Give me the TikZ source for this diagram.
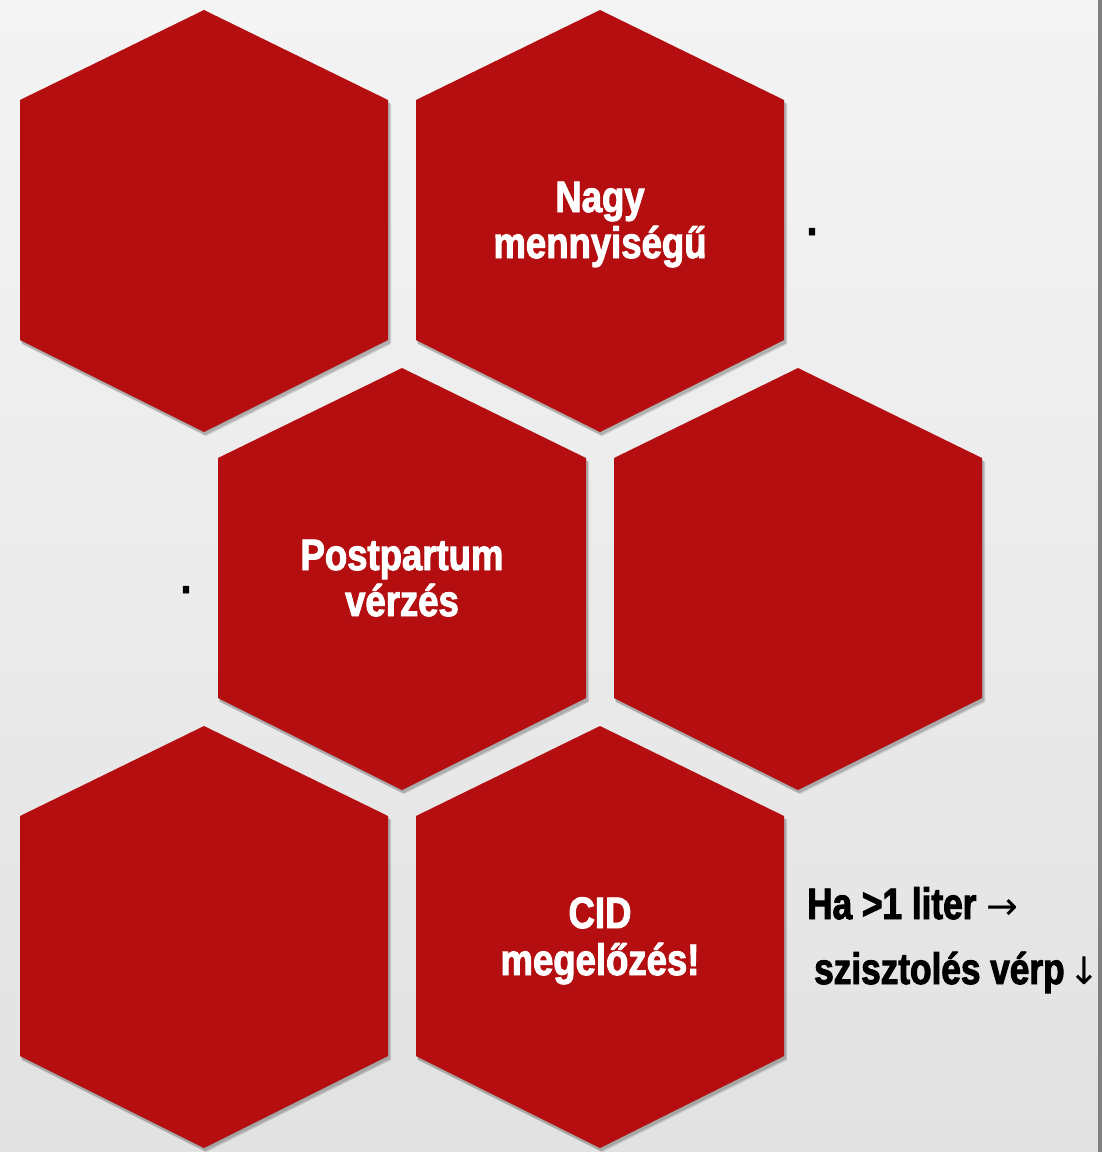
\documentclass[tikz,border=0pt]{standalone}
\usepackage{fontspec}
\setmainfont{Liberation Sans}
\newfontfamily\hexfont[FakeStretch=0.83,FakeBold=2.2]{Liberation Sans}
\newfontfamily\sidefont[FakeStretch=0.8,FakeBold=2.2]{Liberation Sans}
\newfontfamily\arrowfont{DejaVu Sans}
\definecolor{hexred}{RGB}{180,14,16}
\definecolor{bgtop}{RGB}{244,244,244}
\definecolor{bgbot}{RGB}{226,226,226}
\definecolor{edgegray}{RGB}{128,128,128}
\newcommand\hexcell[2]{%
  \fill[black,opacity=0.14] (#1+1,#2+3) -- (#1+186,#2+93) -- (#1+186,#2+333) -- (#1+1,#2+425) -- (#1-183,#2+333) -- (#1-183,#2+93) -- cycle;
  \fill[black,opacity=0.14] (#1+2,#2+4) -- (#1+187,#2+94) -- (#1+187,#2+334) -- (#1+2,#2+426) -- (#1-182,#2+334) -- (#1-182,#2+94) -- cycle;
  \fill[hexred] (#1,#2) -- (#1+184,#2+90) -- (#1+184,#2+330) -- (#1,#2+422) -- (#1-184,#2+330) -- (#1-184,#2+90) -- cycle;
}
\newcommand\arr[1]{{\arrowfont\mdseries\fontsize{38}{38}\selectfont #1}}
\tikzset{
  hextext/.style={text=white,font=\hexfont\bfseries\fontsize{44}{47}\selectfont,inner sep=0pt,anchor=base},
  sidetext/.style={text=black,font=\sidefont\bfseries\fontsize{44}{47}\selectfont,inner sep=0pt,anchor=base west},
  dottext/.style={text=black,font=\hexfont\bfseries\fontsize{44}{47}\selectfont,inner sep=0pt,anchor=base}
}
\begin{document}
\begin{tikzpicture}[x=1pt,y=-1pt]
\useasboundingbox (0,0) rectangle (1102,1152);
\shade[top color=bgtop,bottom color=bgbot] (0,0) rectangle (1102,1152);
\fill[edgegray] (1098,0) rectangle (1102,1152);
\hexcell{204}{10}
\hexcell{600}{10}
\hexcell{402}{368}
\hexcell{798}{368}
\hexcell{204}{726}
\hexcell{600}{726}
\node[hextext] (nagyA) at (600,212) {Nagy};
\node[hextext] (nagyB) at (600,258) {mennyiségű};
\node[hextext] (postA) at (402,570) {Postpartum};
\node[hextext] (postB) at (402,616) {vérzés};
\node[hextext] (cidA) at (600,928) {CID};
\node[hextext] (cidB) at (600,975) {megelőzés!};
\node[dottext] (dotA) at (812,235) {.};
\node[dottext] (dotB) at (186,593) {.};
\node[sidetext] (haA) at (807,919) {Ha >1 liter \arr{→}};
\node[sidetext] (haB) at (814,984) {szisztolés vérp\hspace{4pt}\arr{↓}};
\end{tikzpicture}
\end{document}
